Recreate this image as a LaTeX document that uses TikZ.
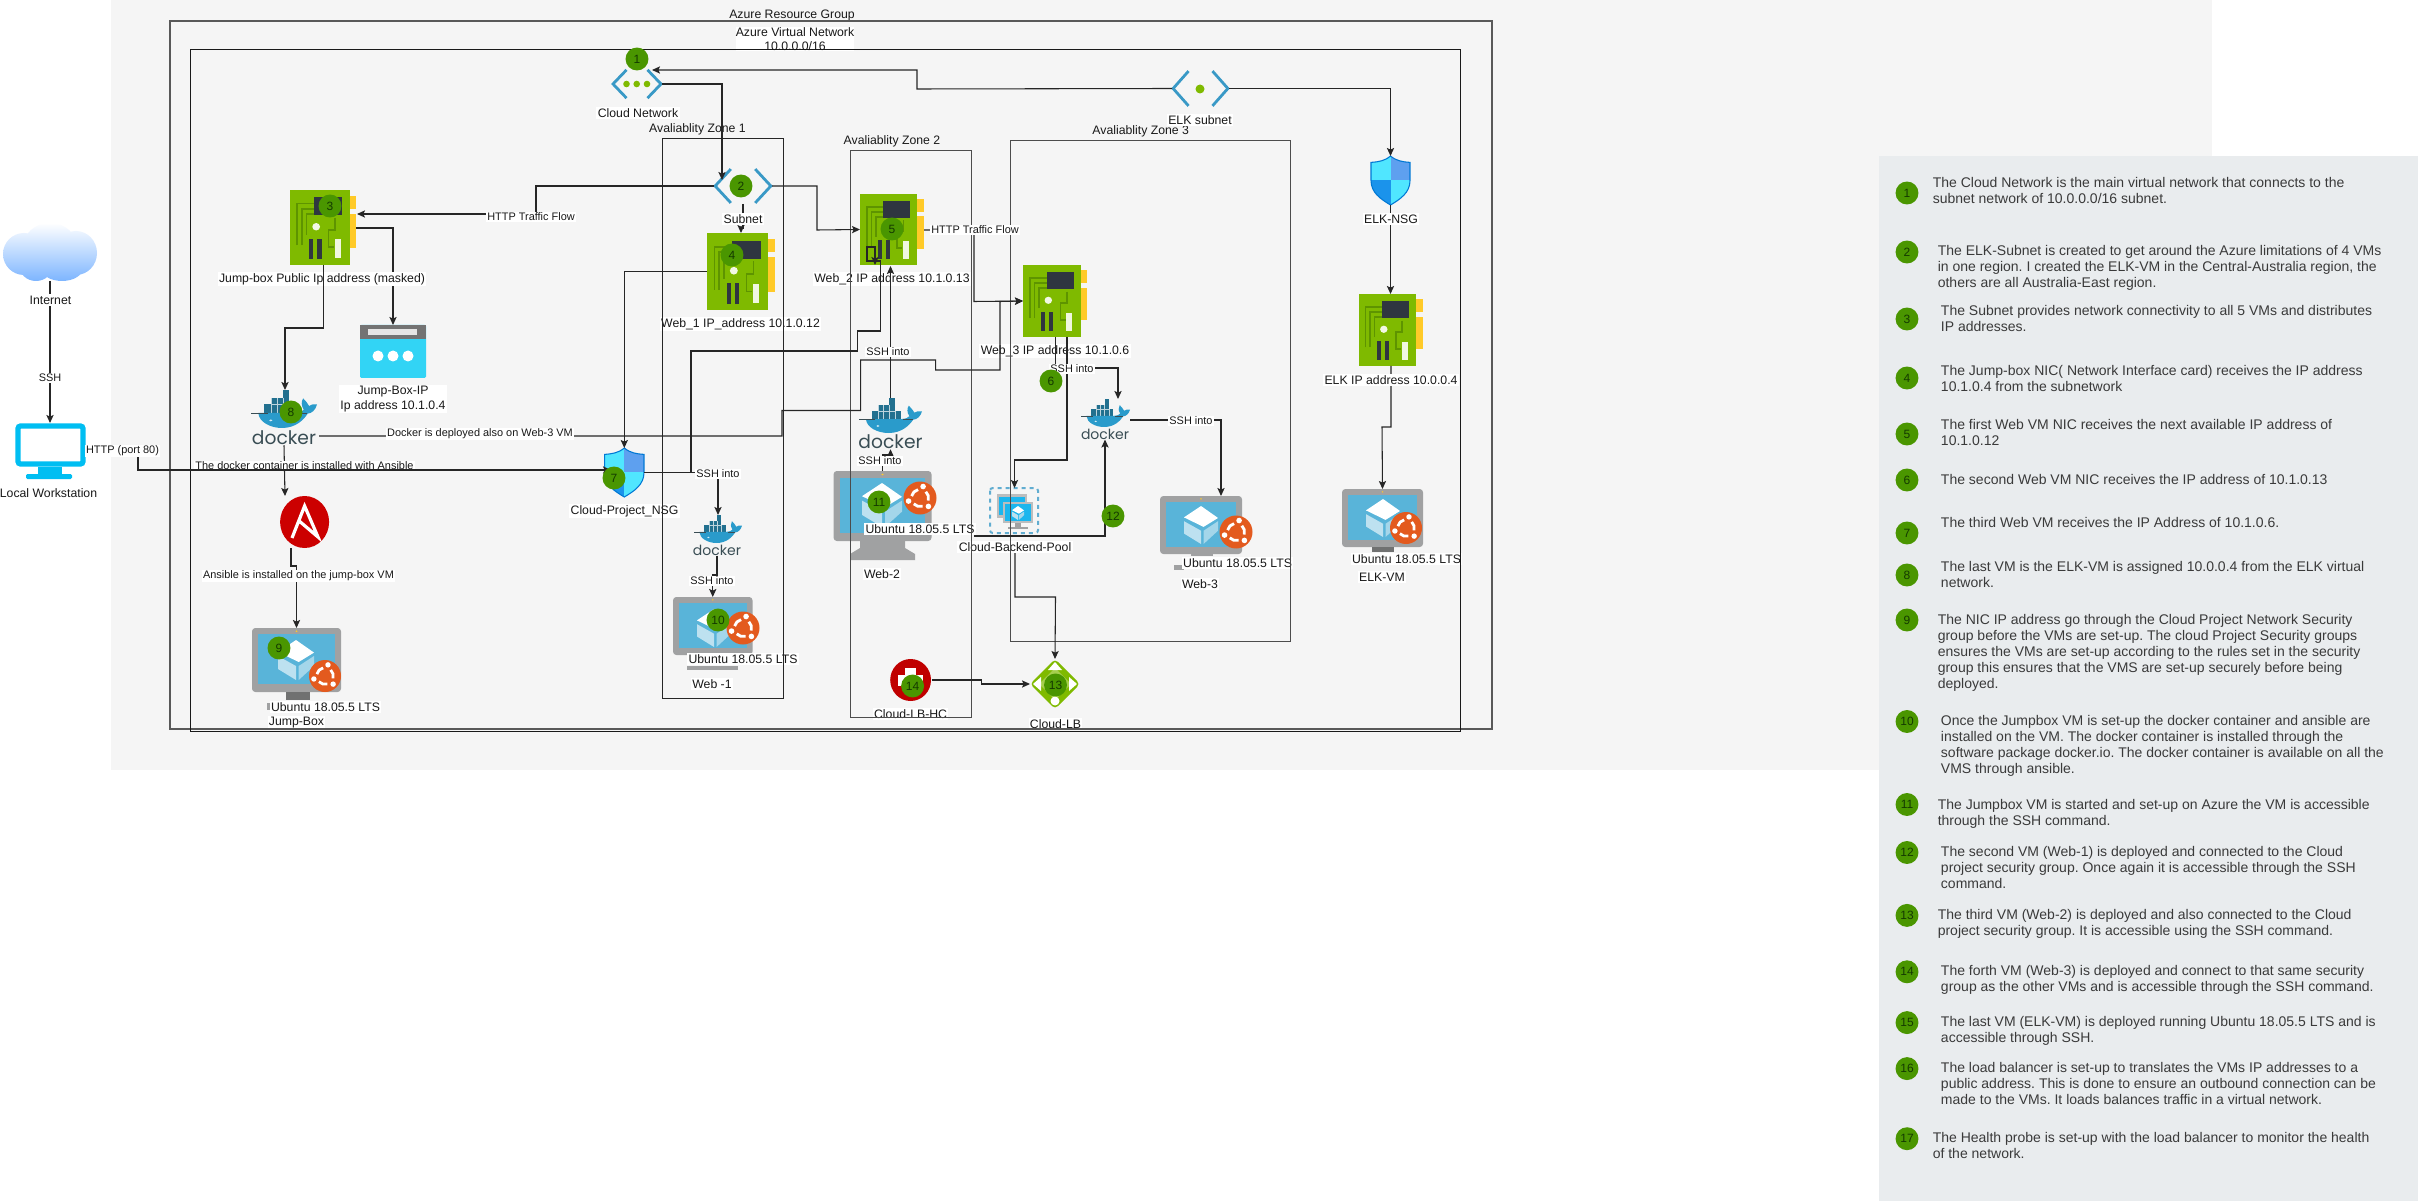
\documentclass[tikz,border=0pt]{standalone}
\usepackage{fontspec}
\setmainfont{Liberation Sans}
\newfontfamily\dockerfont{Poppins}
\usetikzlibrary{arrows.meta,calc}
\definecolor{bggray}{HTML}{F5F5F5}
\definecolor{sidebar}{HTML}{E9ECEE}
\definecolor{nicgreen}{HTML}{7FBA00}
\definecolor{nicdark}{HTML}{5E9400}
\definecolor{nicyellow}{HTML}{FFCA28}
\definecolor{chipdark}{HTML}{2F3640}
\definecolor{vmgray}{HTML}{A0A1A2}
\definecolor{vmblue}{HTML}{59B4D9}
\definecolor{chev}{HTML}{3999C6}
\definecolor{ubu}{HTML}{E35A1E}
\definecolor{badgegreen}{HTML}{4A9600}
\definecolor{badgetext}{HTML}{143A00}
\definecolor{whale}{HTML}{2A9BCB}
\definecolor{crate}{HTML}{22708F}
\definecolor{dockword}{HTML}{394D54}
\definecolor{cyanicon}{HTML}{32D4F5}
\definecolor{workblue}{HTML}{00BEF2}
\definecolor{sidetext}{HTML}{3A3A3A}
\definecolor{cloudblue}{HTML}{7DB5FF}
\tikzset{
  lbl/.style={fill=white,inner sep=1pt,text=black!90,font=\fontsize{9.2}{11}\selectfont,align=center},
  plainlbl/.style={inner sep=1pt,text=black!90,font=\fontsize{9.2}{11}\selectfont,align=center},
  edgelbl/.style={fill=white,inner sep=1pt,text=black!90,font=\fontsize{8.2}{10}\selectfont,align=center},
  ln/.style={draw=black!85,line width=0.8pt},
  arr/.style={ln,-{Stealth[length=6pt,width=5.4pt,inset=1.2pt]}},
  zonebox/.style={draw=black!85,line width=0.7pt},
  badge/.style={circle,fill=badgegreen,text=badgetext,inner sep=0pt,minimum size=17.2pt,font=\fontsize{9}{10}\selectfont},
  sidepara/.style={anchor=north west,inner sep=0pt,align=left,text=sidetext,font=\frenchspacing\fontsize{10.5}{12}\selectfont},
}
\tikzset{HTML/.code={\definecolor{tmpc}{HTML}{#1}\pgfkeysalso{color=tmpc}}}
\newcommand{\place}[5]{%
  \pgfmathsetmacro\pw{((#4)-(#2))*0.75}%
  \pgfmathsetmacro\ph{((#5)-(#3))*0.75}%
  \node[inner sep=0pt,outer sep=0pt,minimum width=\pw pt,minimum height=\ph pt] (#1) at ({((#2)+(#4))/2},{((#3)+(#5))/2}) {};}
\newcommand{\nicicon}[5]{%
  \place{#1}{#2}{#3}{#4}{#5}%
  \begin{scope}[shift={(#2,#3)},x=\pw pt,y=-\ph pt]
    \fill[nicyellow] (1,.075) rectangle (1.115,.25);
    \fill[nicyellow] (1,.315) rectangle (1.115,.77);
    \fill[nicgreen] (0,0) rectangle (1,1);
    \draw[nicdark,line width=1.2pt] (.12,.74) |- (.41,.18);
    \draw[nicdark,line width=1.2pt] (.2,.74) |- (.41,.25);
    \draw[nicdark,line width=1.2pt] (.28,.6) |- (.41,.32);
    \draw[nicdark,line width=1.2pt] (.76,.37) -- (.76,.53) -- (.65,.53) -- (.65,.76) -- (.74,.76);
    \fill[chipdark] (.41,.10) rectangle (.88,.34);
    \fill[white!90!nicgreen] (.44,.49) circle[x radius=.065,y radius=.05];
    \fill[chipdark] (.32,.65) rectangle (.39,.92);
    \fill[chipdark] (.46,.65) rectangle (.53,.92);
    \fill[white!88!nicgreen] (.75,.66) rectangle (.86,.91);
  \end{scope}}
\newcommand{\vmicon}[5]{%
  \place{#1}{#2}{#3}{#4}{#5}%
  \begin{scope}[shift={(#2,#3)},x=\pw pt,y=-\ph pt]
    \fill[vmgray,rounded corners=2.5pt] (0,0) rectangle (1,1);
    \fill[vmblue] (.07,.1) rectangle (.93,.88);
    \fill[nicyellow] (.5,.05) circle[radius=.012];
  \end{scope}}
\newcommand{\cubeicon}[4]{%
  \begin{scope}[shift={(#1,#2)},x=#3*0.75pt,y=#4*0.75pt]
    \fill[white] (0,1) -- (1,.37) -- (.15,-.1) -- (-1,.4) -- cycle;
    \fill[white!60!vmblue] (-1,.2) -- (0,-.3) -- (0,-1) -- (-1,-.45) -- cycle;
    \fill[white!45!vmblue] (1,.2) -- (.15,-.3) -- (.15,-1) -- (1,-.3) -- cycle;
  \end{scope}}
\newcommand{\ubuntuicon}[3]{%
  \begin{scope}[shift={(#1,#2)},x=#3*0.75pt,y=#3*0.75pt]
    \fill[ubu] (0,0) circle[radius=1];
    \foreach \a in {75,195,315}{
      \pgfmathsetmacro\sa{\a+28}\pgfmathsetmacro\ea{\a+92}
      \draw[white,line width=#3*0.13pt] (\sa:.52) arc[start angle=\sa,end angle=\ea,radius=.52];
      \fill[white] (\a:.72) circle[radius=.17];
    }
  \end{scope}}
\newcommand{\whaleicon}[5]{%
  \place{#1}{#2}{#3}{#4}{#5}%
  \begin{scope}[shift={(#2,#3)},x=\pw pt,y=-\ph pt]
    \fill[crate] (.48,0) rectangle (.57,.2);
    \fill[crate] (.31,.2) rectangle (.57,.37);
    \fill[crate] (.2,.37) rectangle (.66,.6);
    \draw[white!70!crate,line width=.25pt] (.31,.37) -- (.57,.37) (.31,.6) -- (.31,.2) (.39,.2) -- (.39,.6) (.48,.2) -- (.48,.6) (.57,.37) -- (.57,.6);
    \fill[whale] (.11,.6) .. controls (.12,.85) and (.3,1) .. (.47,1) .. controls (.68,1) and (.8,.78) .. (.86,.62) .. controls (.92,.62) and (.98,.52) .. (1,.38) .. controls (.95,.37) and (.9,.38) .. (.88,.42) .. controls (.86,.34) and (.82,.28) .. (.79,.22) .. controls (.76,.3) and (.76,.42) .. (.8,.52) .. controls (.76,.58) .. (.68,.6) -- cycle;
    \draw[dockword,line width=.3pt] (0,.6) -- (.25,.6) (.7,.6) -- (.85,.6);
    \fill[white!80!whale] (.3,.8) circle[radius=.025];
  \end{scope}}
\newcommand{\shieldicon}[5]{%
  \place{#1}{#2}{#3}{#4}{#5}%
  \begin{scope}[shift={(#2,#3)},x=\pw pt,y=-\ph pt]
    \begin{scope}
      \clip (.5,0) .. controls (.35,.1) and (.2,.12) .. (0,.13) -- (0,.5) .. controls (0,.75) and (.25,.88) .. (.5,1) .. controls (.75,.88) and (1,.75) .. (1,.5) -- (1,.13) .. controls (.8,.12) and (.65,.1) .. (.5,0) -- cycle;
      \fill[HTML={50E6FF}] (0,0) rectangle (.5,.49);
      \fill[HTML={5EA0EF}] (.5,0) rectangle (1,.49);
      \fill[HTML={1B93EB}] (0,.49) rectangle (.5,1);
      \fill[HTML={50E6FF}] (.5,.49) rectangle (1,1);
    \end{scope}
    \draw[HTML={0078D4},line width=.8pt] (.5,0) .. controls (.35,.1) and (.2,.12) .. (0,.13) -- (0,.5) .. controls (0,.75) and (.25,.88) .. (.5,1) .. controls (.75,.88) and (1,.75) .. (1,.5) -- (1,.13) .. controls (.8,.12) and (.65,.1) .. (.5,0) -- cycle;
  \end{scope}}
\newcommand{\chevicon}[5]{%
  \place{#1}{#2}{#3}{#4}{#5}%
  \begin{scope}[shift={(#2,#3)},x=\pw pt,y=-\ph pt]
    \draw[chev,line width=2.1pt] (.29,.03) -- (.02,.5) -- (.29,.97);
    \draw[chev,line width=2.1pt] (.71,.03) -- (.98,.5) -- (.71,.97);
  \end{scope}}
\begin{document}
\begin{tikzpicture}[x=0.75pt,y=-0.75pt]
\useasboundingbox (0,0) rectangle (2418,1201);
\fill[white] (0,0) rectangle (2418,1201);
\fill[bggray] (111,0) rectangle (2212,770);
\fill[sidebar] (1878.5,156) rectangle (2418,1201);

% ---------- icons ----------
\place{inet}{2.5}{223}{97.5}{281}
\shade[top color=white,bottom color=cloudblue]
  (50,247) ellipse[x radius=27,y radius=24]
  (24,254) ellipse[x radius=21,y radius=21]
  (76,253) ellipse[x radius=21,y radius=22]
  (36,265) ellipse[x radius=17,y radius=16]
  (62,268) ellipse[x radius=21,y radius=13];

\place{work}{15}{423}{86}{479}
\draw[workblue,line width=4pt,rounded corners=2pt] (18,426) rectangle (83,464);
\fill[workblue] (38,467) rectangle (62,474);
\fill[workblue,rounded corners=1pt] (26,474) rectangle (72,479);

\chevicon{cloudnet}{612}{69}{662}{99}
\foreach \dx in {626.5,636.7,647}{\fill[nicgreen] (\dx,84) circle[radius=3.3];}
\chevicon{elksub}{1172}{70}{1229}{107}
\fill[nicgreen] (1200,89) circle[radius=4.5];
\chevicon{subnet}{714}{168}{772}{204}

\nicicon{nicJ}{290}{190}{349.5}{265}
\nicicon{nicW1}{707}{233}{768}{310}
\nicicon{nicW2}{860}{194}{917}{265}
\nicicon{nicW3}{1023}{265}{1080.5}{337}
\nicicon{nicE}{1358.5}{294}{1416}{366}

\place{ipicon}{360}{325}{426}{378}
\fill[cyanicon,rounded corners=1pt] (360,325) rectangle (426,378);
\fill[black!55] (360,325) rectangle (426,339);
\fill[white!90!black] (368,329) rectangle (417,335);
\foreach \dx in {378,393,408}{\fill[white] (\dx,356) circle[radius=5.5];}

\whaleicon{dockJ}{251}{390}{317}{428}
\node[inner sep=0pt,text=dockword,font=\dockerfont\fontsize{14}{14}\selectfont] (dockJw) at (284,438) {docker};
\whaleicon{dock1}{694}{515}{742}{543}
\node[inner sep=0pt,text=dockword,font=\dockerfont\fontsize{10.5}{11}\selectfont] (dock1w) at (717,550) {docker};
\whaleicon{dock2}{859}{398}{922}{433}
\node[inner sep=0pt,text=dockword,font=\dockerfont\fontsize{14}{14}\selectfont] (dock2w) at (890.5,442) {docker};
\whaleicon{dock3}{1081}{399}{1130}{427}
\node[inner sep=0pt,text=dockword,font=\dockerfont\fontsize{10.5}{11}\selectfont] (dock3w) at (1105,434) {docker};

\place{ansible}{280}{496}{329}{548}
\fill[HTML={CC0000}] (304.6,522) ellipse[x radius=24.5,y radius=26];
\draw[white,line width=2.4pt,line join=miter] (292,538) -- (304.6,506) -- (318,537) -- (298,520);

\shieldicon{nsg}{604.6}{448}{644}{497}
\shieldicon{nsgE}{1371}{156}{1410}{205}

% VMs
\vmicon{vmJ}{252}{628}{341}{692}
\fill[vmgray!70!black] (286,692) rectangle (310,700);
\fill[vmgray] (267,703) rectangle (272,710);
\cubeicon{296}{660}{18}{20}
\ubuntuicon{325}{676}{16}

\vmicon{vm1}{673}{597}{752.5}{655}
\fill[vmgray] (687,666) rectangle (738,670);
\cubeicon{714}{628}{17}{19}
\ubuntuicon{743}{628}{16.5}

\vmicon{vm2}{833.5}{471}{931.5}{541}
\fill[vmgray] (860,541) -- (905,541) -- (905,548) -- (915,554) -- (915,560) -- (850,560) -- (850,554) -- (860,548) -- cycle;
\cubeicon{882}{505}{20}{22}
\ubuntuicon{920}{498}{16.5}

\vmicon{vm3}{1160}{496}{1242}{554}
\fill[vmgray] (1191,554) rectangle (1213,556);
\fill[vmgray] (1174,565) rectangle (1184,570);
\cubeicon{1201}{525}{17}{19}
\ubuntuicon{1236}{532}{16.5}

\vmicon{vmE}{1342}{489}{1423}{547}
\fill[vmgray!70!black] (1372,547) rectangle (1394,552);
\cubeicon{1383}{518}{17}{19}
\ubuntuicon{1406}{528}{16}

% backend pool
\place{pool}{990}{488}{1039}{534}
\draw[chev!80,line width=1.5pt,dash pattern=on 3pt off 3pt,rounded corners=2pt] (990,488) rectangle (1038,533);
\fill[vmgray!70] (997,494) rectangle (1027,518);
\fill[HTML={1CB6EE}] (999,497) rectangle (1025,515);
\fill[vmgray!70] (1003,502) rectangle (1033,523);
\fill[HTML={1CB6EE}] (1005,504) rectangle (1031,521);
\cubeicon{1018}{513}{6}{7}
\fill[vmgray] (1015,523) rectangle (1021,527);
\fill[vmgray] (1008,527) rectangle (1028,529);

% load balancer
\place{lb}{1030}{659}{1080}{709}
\fill[nicgreen,rounded corners=3pt] (1055,659) -- (1080,684) -- (1055,709) -- (1030,684) -- cycle;
\fill[white!30!nicgreen] (1055,668) -- (1071,684) -- (1055,700) -- (1039,684) -- cycle;
\fill[white] (1055,662) -- (1062,670) -- (1048,670) -- cycle;
\fill[white] (1033,684) -- (1041,677) -- (1041,691) -- cycle;
\fill[white] (1077,684) -- (1069,677) -- (1069,691) -- cycle;
\fill[white] (1055,701) circle[radius=4.5];

% health probe
\place{hc}{890.6}{659}{931.5}{701}
\fill[HTML={C00000}] (910.6,680) ellipse[x radius=20.4,y radius=21];
\fill[white] (905,668) rectangle (916,692);
\fill[white] (898,675) rectangle (923,686);

\coordinate (jOutR) at (356,228);
\draw[arr] (jOutR) -| (ipicon.north);

% ---------- labels crossed by lines ----------
\node[lbl] (lnet) at (638,113) {Cloud Network};
\node[plainlbl] (lz1) at (697.5,129) {Avaliablity Zone 1};
\node[plainlbl] (lz2) at (892,141) {Avaliablity Zone 2};
\node[plainlbl] (lz3) at (1140.7,131) {Avaliablity Zone 3};
\node[lbl] (lelk) at (1200,120) {ELK subnet};
\node[plainlbl] (lrg) at (792,15.7) {Azure Resource Group};
\node[lbl,inner sep=0pt] (lvn) at (795,39) {Azure Virtual Network\\10.0.0.0/16};
\node[lbl] (lJ) at (322,279) {Jump-box Public Ip address (masked)};
\node[lbl] (lW1) at (740.5,324) {Web\_1 IP\_address 10.1.0.12};
\node[lbl] (lW2) at (892,279) {Web\_2 IP address 10.1.0.13};
\node[lbl] (lW3) at (1055,351) {Web\_3 IP address 10.1.0.6};
\node[lbl] (lip) at (393,399) {Jump-Box-IP\\Ip address 10.1.0.4};
\node[lbl] (lnsg) at (624.5,511) {Cloud-Project\_NSG};
\node[lbl] (lwork) at (48.5,493) {Local Workstation};
\node[lbl] (ljb) at (325.5,707) {Ubuntu 18.05.5 LTS};
\node[lbl] (ljbn) at (296.5,723) {Jump-Box};
\node[lbl] (lv1) at (743,659) {Ubuntu 18.05.5 LTS};
\node[lbl] (lv1n) at (712,684) {Web -1};
\node[lbl] (lv2) at (920,529) {Ubuntu 18.05.5 LTS};
\node[lbl] (lv2n) at (882,574) {Web-2};
\node[lbl] (lv3) at (1237.6,563) {Ubuntu 18.05.5 LTS};
\node[lbl] (lv3n) at (1200,584) {Web-3};
\node[lbl] (lvE) at (1406.5,559) {Ubuntu 18.05.5 LTS};
\node[lbl] (lvEn) at (1382,577) {ELK-VM};
\node[lbl] (lpool) at (1015,547) {Cloud-Backend-Pool};
\node[lbl] (llb) at (1055.5,724) {Cloud-LB};
\node[lbl] (lhc) at (910.6,714) {Cloud-LB-HC};

% ---------- containers ----------
\node[draw=black!65,line width=0.8pt,inner sep=0pt,minimum width=991.5pt,minimum height=531pt] (rg) at (831,375) {};
\node[draw=black!90,line width=0.75pt,inner sep=0pt,minimum width=952.95pt,minimum height=510.75pt] (vnet) at (825.3,390.5) {};
\node[zonebox,inner sep=0pt,minimum width=90.75pt,minimum height=420pt] (zone1) at (722.5,418) {};
\node[zonebox,draw=black!70,inner sep=0pt,minimum width=90.45pt,minimum height=425.25pt] (zone2) at (910.7,433.5) {};
\node[zonebox,draw=black!70,inner sep=0pt,minimum width=210.08pt,minimum height=375.75pt] (zone3) at (1150.65,390.5) {};

% ---------- named free ends ----------
\coordinate (subIn) at (722,180);
\coordinate (cloudIn) at (652,70);
\coordinate (jIn) at (357,214);
\coordinate (jOut) at (323.5,265);
\coordinate (dockOut) at (319,436);
\coordinate (ansIn) at (285,496);
\coordinate (ansOut) at (291,548);
\coordinate (nsgIn) at (611,470);
\coordinate (w1in) at (741,233);
\coordinate (w2out) at (924,230);
\coordinate (w2box) at (875,265);
\coordinate (w2up) at (890.5,266);
\coordinate (w3a) at (1055.5,337);
\coordinate (w3b) at (1067,337);
\coordinate (d3in) at (1118,399);
\coordinate (d3out) at (1130,420);
\coordinate (v3in) at (1221,496);
\coordinate (poolL) at (974,536);
\coordinate (eOut) at (1391,366);

% ---------- connectors ----------
\draw[arr] (cloudnet.east) -| (subIn);
\draw[arr] (elksub.west) -- (917,89) -- (917,70) -- (cloudIn);
\draw[arr] (elksub.east) -| (nsgE.north);
\draw[arr] (nsgE.south) -- (nsgE.south |- nicE.north);
\draw[arr] (eOut) -- (1391,427) -- (1382,427) -- (vmE.north);
\draw[arr] (subnet.west) -- (536,186) -- (536,214) -- (jIn);
\draw[arr] (subnet.south) -- (743,228) -- (741,228) -- (w1in);
\draw[arr] (subnet.east) -- (817,186) -- (817,230) -- (nicW2.west);
\draw[arr] (jOut) -- (323.5,328) -- (285,328) -- (285,390);
\draw[arr] (w2out) -- (974,230) -- (974,301.5) -- (nicW3.west);
\draw[arr] (dockOut) -- (782,436) -- (782,410.5) -- (860.6,410.5) -- (860.6,360) -- (935.6,360) -- (935.6,370) -- (1000,370) -- (1000,301.5) -- (nicW3.west);
\draw[arr] (nicW1.west) -| (nsg.north);
\draw[arr] (nsg.east) -- (691,472.5) -- (691,351) -- (857.5,351) -- (857.5,331) -- (880.5,331) -- (880.5,261) -- (867,261) -- (867,247) -- (875,247) -- (w2box);
\draw[arr] (nsg.east) -- (718,472.5) -- (dock1.north);
\draw[arr] (dock1w.south) -- (717,575) -| (vm1.north);
\draw[arr] (dock2.north) -- (w2up);
\draw[arr] (vm2.north) -- (882.5,455) -- (890.5,455) -- (dock2w.south);
\draw[arr] (w3a) -- (1055.5,368) -- (1118,368) -- (d3in);
\draw[arr] (w3b) -- (1067,460) -| (pool.north);
\draw[arr] (poolL) -| (dock3w.south);
\draw[arr] (lpool.south) -- (1015,597) -- (1055.5,597) -- (lb.north);
\draw[arr] (d3out) -- (1221,420) -- (v3in);
\draw[arr] (hc.east) -- (981.5,680) -- (981.5,684) -- (lb.west);
\draw[arr] (dockJw.south) -- (ansIn);
\draw[arr] (ansOut) -- (291,566) -- (296.5,566) -- (vmJ.north);
\draw[arr] (inet.south) -- (inet.south |- work.north);

% ---------- labels on lines ----------
\node[lbl] (eElk) at (1391,219) {ELK-NSG};
\node[lbl] (eElkIp) at (1391,380) {ELK IP address 10.0.0.4};
\node[lbl] (eSub) at (743,219) {Subnet};
\node[lbl] (eInet) at (50.5,300) {Internet};
\node[edgelbl] (eSsh) at (50,378) {SSH};
\node[edgelbl] (eHttpA) at (531,217) {HTTP Traffic Flow};
\node[edgelbl] (eHttpB) at (975,230) {HTTP Traffic Flow};
\node[edgelbl] (eDock) at (480,434) {Docker is deployed also on Web-3 VM};
\node[edgelbl] (eAns) at (298.5,576) {Ansible is installed on the jump-box VM};
\node[edgelbl] (eS1) at (718,474) {SSH into};
\node[edgelbl] (eS2) at (712,581) {SSH into};
\node[edgelbl] (eS3) at (888,352) {SSH into};
\node[edgelbl] (eS4) at (880,461) {SSH into};
\node[edgelbl] (eS5) at (1072,369) {SSH into};
\node[edgelbl] (eS6) at (1191,421) {SSH into};
\node[edgelbl] (eDA) at (304.5,466) {The docker container is installed with Ansible};
\draw[arr] (work.east) -- (138,451) -- (138,470) -- (nsgIn);
\node[edgelbl] (ePort) at (122.5,451) {HTTP (port 80)};

% ---------- diagram badges ----------
\node[badge] (n1) at (637,59) {1};
\node[badge] (n2) at (741,186) {2};
\node[badge] (n3) at (330,206) {3};
\node[badge] (n4) at (732,255) {4};
\node[badge] (n5) at (892,229) {5};
\node[badge] (n6) at (1051,381) {6};
\node[badge] (n7) at (614,478) {7};
\node[badge] (n8) at (291,412) {8};
\node[badge] (n9) at (279,648) {9};
\node[badge] (n10) at (718,620) {10};
\node[badge] (n11) at (879,502) {11};
\node[badge] (n12) at (1113,516) {12};
\node[badge] (n13) at (1055.5,685) {13};
\node[badge] (n14) at (912.6,686) {14};

% ---------- sidebar ----------
\foreach \i/\yy in {1/193,2/252,3/319,4/378,5/434,6/480,7/533,8/575,9/620,10/721.5,11/804.5,12/852.5,13/915.4,14/971.8,15/1022.6,16/1068.6,17/1138.7}{
  \node[badge] (c\i) at (1907,\yy) {\i};
}
\node[sidepara] (s1) at (1932.5,177.5) {The Cloud Network is the main virtual network that connects to the\\subnet network of 10.0.0.0/16 subnet.};
\node[sidepara] (s2) at (1937.5,245.5) {The ELK-Subnet is created to get around the Azure limitations of 4 VMs\\in one region. I created the ELK-VM in the Central-Australia region, the\\others are all Australia-East region.};
\node[sidepara] (s3) at (1940.7,305.5) {The Subnet provides network connectivity to all 5 VMs and distributes\\IP addresses.};
\node[sidepara] (s4) at (1940.7,365.5) {The Jump-box NIC( Network Interface card) receives the IP address\\10.1.0.4 from the subnetwork};
\node[sidepara] (s5) at (1940.7,419.5) {The first Web VM NIC receives the next available IP address of\\10.1.0.12};
\node[sidepara] (s6) at (1940.7,474.5) {The second Web VM NIC receives the IP address of 10.1.0.13};
\node[sidepara] (s7) at (1940.7,517.5) {The third Web VM receives the IP Address of 10.1.0.6.};
\node[sidepara] (s8) at (1940.7,561.5) {The last VM is the ELK-VM is assigned 10.0.0.4 from the ELK virtual\\network.};
\node[sidepara] (s9) at (1937.5,614.5) {The NIC IP address go through the Cloud Project Network Security\\group before the VMs are set-up. The cloud Project Security groups\\ensures the VMs are set-up according to the rules set in the security\\group this ensures that the VMS are set-up securely before being\\deployed.};
\node[sidepara] (s10) at (1940.7,715.5) {Once the Jumpbox VM is set-up the docker container and ansible are\\installed on the VM. The docker container is installed through the\\software package docker.io. The docker container is available on all the\\VMS through ansible.};
\node[sidepara] (s11) at (1937.5,799) {The Jumpbox VM is started and set-up on Azure the VM is accessible\\through the SSH command.};
\node[sidepara] (s12) at (1940.7,846) {The second VM (Web-1) is deployed and connected to the Cloud\\project security group. Once again it is accessible through the SSH\\command.};
\node[sidepara] (s13) at (1937.5,909.3) {The third VM (Web-2) is deployed and also connected to the Cloud\\project security group. It is accessible using the SSH command.};
\node[sidepara] (s14) at (1940.7,965.3) {The forth VM (Web-3) is deployed and connect to that same security\\group as the other VMs and is accessible through the SSH command.};
\node[sidepara] (s15) at (1940.7,1016.5) {The last VM (ELK-VM) is deployed running Ubuntu 18.05.5 LTS and is\\accessible through SSH.};
\node[sidepara] (s16) at (1940.7,1062.4) {The load balancer is set-up to translates the VMs IP addresses to a\\public address. This is done to ensure an outbound connection can be\\made to the VMs. It loads balances traffic in a virtual network.};
\node[sidepara] (s17) at (1932.5,1132.5) {The Health probe is set-up with the load balancer to monitor the health\\of the network.};
\end{tikzpicture}
\end{document}
